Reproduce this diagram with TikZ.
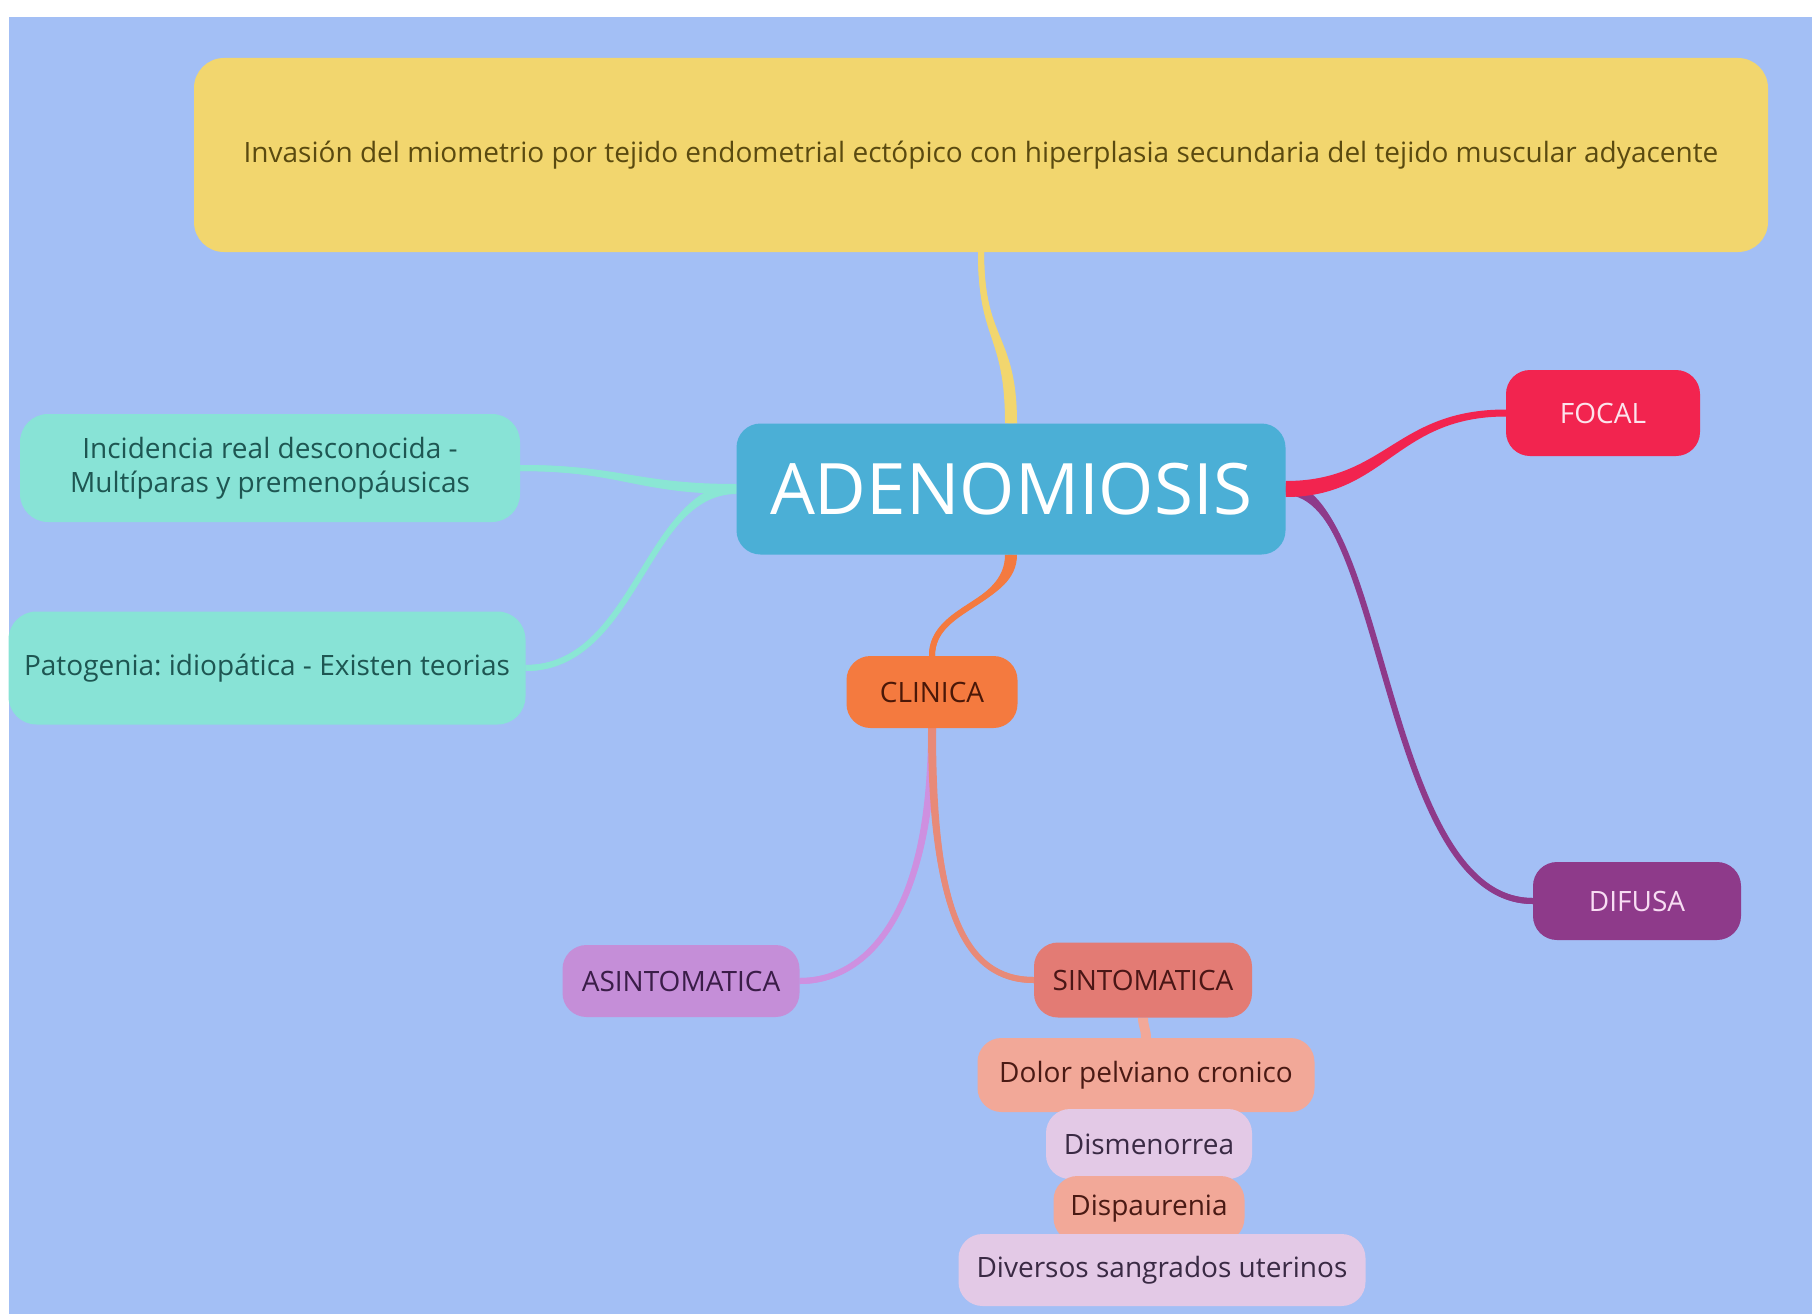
\documentclass[tikz,border=0pt]{standalone}
\usepackage{fontspec}
\setmainfont{Open Sans}
\frenchspacing
\usetikzlibrary{calc}

\definecolor{bgblue}{HTML}{A3BFF5}
\definecolor{introfill}{HTML}{F2D66E}
\definecolor{introtext}{HTML}{5A4A10}
\definecolor{adenofill}{HTML}{4BAFD6}
\definecolor{tealfill}{HTML}{88E3D6}
\definecolor{tealtext}{HTML}{1E5652}
\definecolor{teallink}{HTML}{8AE6D4}
\definecolor{focalfill}{HTML}{F2244F}
\definecolor{focaltext}{HTML}{FCE4EC}
\definecolor{difusafill}{HTML}{8E3A8A}
\definecolor{difusatext}{HTML}{F8DDF3}
\definecolor{clinicafill}{HTML}{F47A3F}
\definecolor{clinicatext}{HTML}{4A1808}
\definecolor{asintofill}{HTML}{C58ED8}
\definecolor{asintotext}{HTML}{3A1D48}
\definecolor{asintolink}{HTML}{CE90E0}
\definecolor{sintofill}{HTML}{E37B74}
\definecolor{sintotext}{HTML}{4A1616}
\definecolor{sintolink}{HTML}{E88A78}
\definecolor{salmonfill}{HTML}{F2A898}
\definecolor{salmontext}{HTML}{4A1A14}
\definecolor{lilacfill}{HTML}{E3C9E6}
\definecolor{lilactext}{HTML}{3A2A44}

\pgfdeclarelayer{canvas}
\pgfdeclarelayer{links}
\pgfsetlayers{canvas,links,main}

% tapered branch: colour, start, start half-width, start control, end, end half-width, end control
\newcommand{\mmlink}[7]{%
  \draw[#1, line width=6pt] (#2) .. controls +(#4) and +(#7) .. (#5);
  \fill[#1] ($(#2)+(#3)$) .. controls +(#4) and +(#7) .. ($(#5)+(#6)$)
    -- ($(#5)-(#6)$) .. controls +(#7) and +(#4) .. ($(#2)-(#3)$) -- cycle;}

\begin{document}
\begin{tikzpicture}[
    x=1pt, y=-1pt,
    every node/.style={font=\fontsize{28}{34}\selectfont},
    topic/.style={rounded corners=24pt, inner sep=0pt, align=center},
    introbox/.style={topic, fill=introfill, text=introtext, rounded corners=30pt},
    tealbox/.style={topic, fill=tealfill, text=tealtext, rounded corners=28pt},
    salmonbox/.style={topic, fill=salmonfill, text=salmontext},
    lilacbox/.style={topic, fill=lilacfill, text=lilactext}
  ]
  \useasboundingbox (0,0) rectangle (1812,1314);
  \begin{pgfonlayer}{canvas}
    \fill[white] (0,0) rectangle (1812,1314);
    \fill[bgblue] (9,17) rectangle (1812,1314);
  \end{pgfonlayer}

  % --- Definition ---
  \node[introbox, minimum width=1574pt, minimum height=194pt] (intro) at (981,155)
    {Invasión del miometrio por tejido endometrial ectópico con hiperplasia secundaria del tejido muscular adyacente};

  % --- Central topic ---
  \node[topic, fill=adenofill, text=white, font=\fontsize{71}{80}\selectfont,
    minimum width=549pt, minimum height=131pt] (adeno) at (1011,489) {ADENOMIOSIS};

  % --- Left side ---
  \node[tealbox, minimum width=500pt, minimum height=108pt] (incid) at (270,468)
    {Incidencia real desconocida -\\Multíparas y premenopáusicas};
  \node[tealbox, minimum width=517pt, minimum height=113pt] (patog) at (267,668)
    {Patogenia: idiopática - Existen teorias};

  % --- Right side ---
  \node[topic, fill=focalfill, text=focaltext, minimum width=194pt, minimum height=86pt] (focal) at (1603,413) {FOCAL};
  \node[topic, fill=difusafill, text=difusatext, minimum width=208pt, minimum height=78pt] (difusa) at (1637,901) {DIFUSA};

  % --- Clinica ---
  \node[topic, fill=clinicafill, text=clinicatext, minimum width=171pt, minimum height=72pt] (clinica) at (932,692) {CLINICA};
  \node[topic, fill=asintofill, text=asintotext, minimum width=237pt, minimum height=72pt] (asinto) at (681,981) {ASINTOMATICA};
  \node[topic, fill=sintofill, text=sintotext, minimum width=218pt, minimum height=75pt] (sinto) at (1143,980) {SINTOMATICA};

  % --- Symptoms ---
  \node[salmonbox, minimum width=337pt, minimum height=74pt] (dolor) at (1146,1075) {Dolor pelviano cronico};
  \node[lilacbox, minimum width=206pt, minimum height=70pt] (dismen) at (1149,1144) {Dismenorrea};
  \node[salmonbox, minimum width=191pt, minimum height=66pt] (dispau) at (1149,1209) {Dispaurenia};
  \node[lilacbox, minimum width=407pt, minimum height=72pt] (divers) at (1162,1270) {Diversos sangrados uterinos};

  % --- Branches ---
  \begin{pgfonlayer}{links}
    \mmlink{introfill}{intro.south}{3,0}{0,90}{adeno.north}{6,0}{0,-90}
    \mmlink{clinicafill}{adeno.south}{6,0}{0,50}{clinica.north}{3,0}{0,-50}
    \mmlink{teallink}{adeno.west}{0,5}{-100,0}{incid.east}{0,3}{100,0}
    \mmlink{teallink}{adeno.west}{0,5}{-90,0}{patog.east}{0,3}{110,0}
    \mmlink{difusafill}{adeno.east}{0,6}{100,0}{difusa.west}{0,3}{-150,0}
    \mmlink{focalfill}{adeno.east}{0,8}{100,0}{focal.west}{0,3.5}{-110,0}
    \mmlink{asintolink}{clinica.south}{4,0}{0,180}{asinto.east}{0,3}{70,0}
    \mmlink{sintolink}{clinica.south}{4,0}{0,180}{sinto.west}{0,-3}{-70,0}
    \mmlink{salmonfill}{sinto.south}{5,0}{0,8}{dolor.north}{5,0}{0,-8}
  \end{pgfonlayer}
\end{tikzpicture}
\end{document}
